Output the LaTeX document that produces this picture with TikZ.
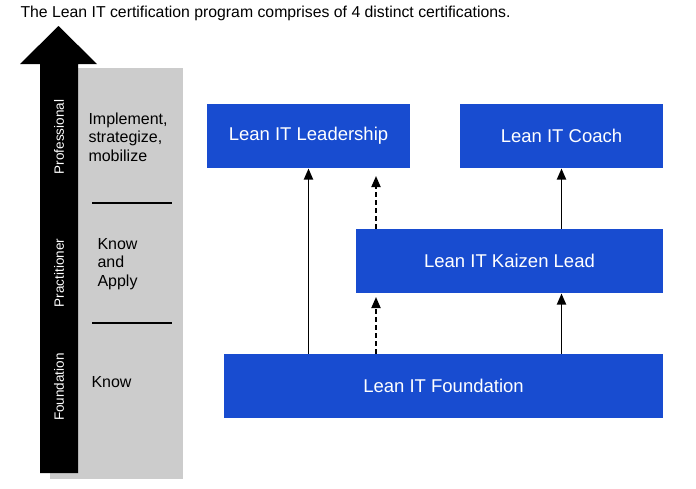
\documentclass[tikz,border=0pt]{standalone}
\usepackage{fontspec}
\setmainfont{Liberation Sans}
\usetikzlibrary{arrows.meta}

\definecolor{certblue}{RGB}{24,76,208}
\definecolor{levelgrey}{RGB}{204,204,204}

\tikzset{every picture/.style={line width=1pt}}
\tikzset{
  certbox/.style={fill=certblue, draw=none, text=white, minimum height=64, inner sep=0pt,
    font=\fontsize{18.5}{22}\selectfont},
  uparrow/.style={line width=1.8pt, -{Triangle[length=11pt,width=9pt]}},
  levellabel/.style={rotate=90, text=white, inner sep=0pt, font=\fontsize{13.5}{16}\selectfont},
  skilltext/.style={anchor=west, align=left, inner sep=0pt, font=\fontsize{16}{18.7}\selectfont}
}

\begin{document}
\begin{tikzpicture}[x=1pt,y=1pt,yscale=-1,xscale=1]
    \useasboundingbox (0,0) rectangle (696,488);

    % Title
    \node [anchor=west, inner sep=0pt, font=\fontsize{15.8}{18}\selectfont] (title) at (20,13) {The Lean IT certification program comprises of 4 distinct certifications.};

    %Shape: grey level band
    \fill [levelgrey] (50,68) rectangle (183,479);

    %Shape: black level arrow
    \fill [black] (40,473) -- (40,64) -- (20,64) -- (58.5,26) -- (97,64) -- (78,64) -- (78,473) -- cycle;

    % Level labels
    \node [levellabel] (prof) at (59,137) {Professional};
    \node [levellabel] (prac) at (59,273) {Practitioner};
    \node [levellabel] (foundlvl) at (59,387) {Foundation};

    % Skill texts
    \node [skilltext] (implement) at (88,137) {Implement,\\strategize,\\mobilize};
    \node [skilltext] (apply) at (97,264) {Know\\and\\Apply};
    \node [skilltext] (know) at (91,382) {Know};

    %Straight Lines: separators
    \draw [line width=1.6pt] (92,203) -- (172,203);
    \draw [line width=1.6pt] (92,323) -- (172,323);

    % Certification boxes
    \node [certbox, minimum width=203] (lead) at (308.5,136) {Lean IT Leadership};
    \node [certbox, minimum width=203] (coach) at (561.5,136) {Lean IT Coach};
    \node [certbox, minimum width=307] (kaizen) at (509.5,261) {Lean IT Kaizen Lead};
    \node [certbox, minimum width=439] (found) at (443.5,386) {Lean IT Foundation};

    \coordinate (dashx) at (376,300);
    \coordinate (kaizentip) at (376,297);
    \coordinate (leadtip) at (376,176);

    %Straight Lines: arrows
    \draw [uparrow] (found.north -| lead.south) -- (lead.south);
    \draw [uparrow, dash pattern=on 4.5pt off 3.5pt] (found.north -| dashx) -- (kaizentip);
    \draw [uparrow, dash pattern=on 4.5pt off 3.5pt] (kaizen.north -| dashx) -- (leadtip);
    \draw [uparrow] (found.north -| coach.south) -- (kaizen.south -| coach.south);
    \draw [uparrow] (kaizen.north -| coach.south) -- (coach.south);

\end{tikzpicture}
\end{document}
